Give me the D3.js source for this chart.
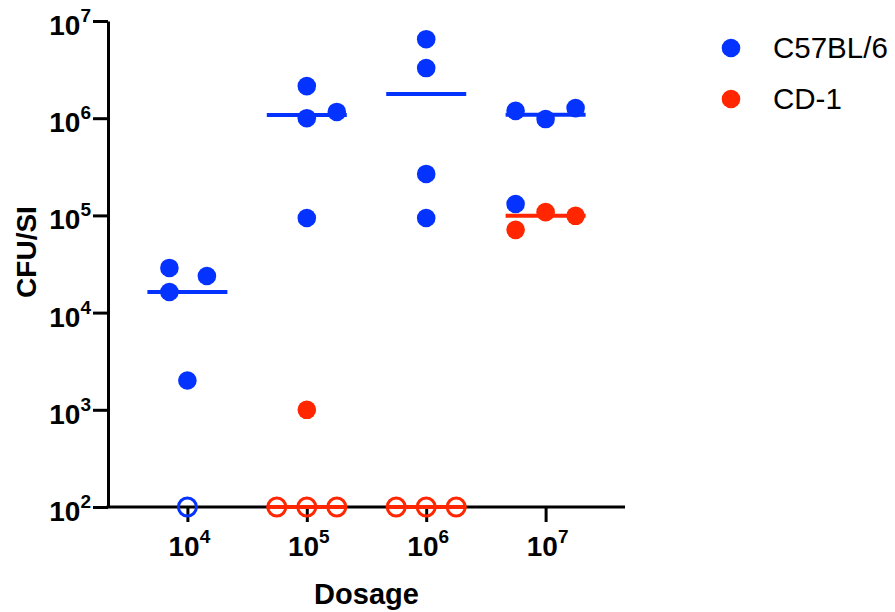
<!DOCTYPE html>
<html>
<head>
<meta charset="utf-8">
<script src="https://cdn.jsdelivr.net/npm/d3@7"></script>
<style>
  html, body { margin: 0; padding: 0; background: #fff; }
  svg { display: block; }
  text { font-family: "Liberation Sans", Arial, Helvetica, sans-serif; }
</style>
</head>
<body>
<svg id="chart" width="895" height="612"></svg>
<script>
// ---- data ----
const dosageExponents = [4, 5, 6, 7];          // x categories: 10^4 ... 10^7
const yTickExponents = [2, 3, 4, 5, 6, 7];     // y ticks: 10^2 ... 10^7
const seriesNames = ["C57BL/6", "CD-1"];
const seriesColors = ["#0433FF", "#FF2600"];
const detectionLimit = 100;

// C57BL/6 CFU/SI per dosage group
const c57Values = [
  [28800, 23800, 16300, 2000, 100],
  [2140000, 1000000, 1160000, 94000],
  [6500000, 3280000, 267000, 94000],
  [1190000, 980000, 1270000, 131000]
];
const c57Slots = [
  [-0.6, 0.65, -0.6, 0, 0],
  [0, 0, 1, 0],
  [0, 0, 0, 0],
  [-1, 0, 1, -1]
];
// CD-1 CFU/SI per dosage group
const cd1Values = [
  [],
  [1000, 100, 100, 100],
  [100, 100, 100],
  [108000, 99000, 71000]
];
const cd1Slots = [
  [],
  [0, -1, 0, 1],
  [-1, 0, 1],
  [0, 1, -1]
];

// ---- layout ----
const svg = d3.select("#chart");
const mLeft = 108, mRight = 625, mTop = 21, mBottom = 507;
const slotW = 30, medHalf = 40, rad = 9.3;

const x = d3.scalePoint().domain(dosageExponents).range([mLeft, mRight]).padding(0.665);
const y = d3.scaleLog().domain([1e2, 1e7]).range([mBottom, mTop]);

// axes
const yAxis = d3.axisLeft(y).tickValues(yTickExponents.map(e => Math.pow(10, e)))
  .tickSize(15).tickSizeOuter(0).tickFormat("");
const xAxis = d3.axisBottom(x).tickValues(dosageExponents)
  .tickSize(15).tickSizeOuter(0).tickFormat("");

const gy = svg.append("g").attr("transform", `translate(${mLeft},0)`).call(yAxis);
const gx = svg.append("g").attr("transform", `translate(0,${mBottom})`).call(xAxis);
[gy, gx].forEach(g => {
  g.select(".domain").attr("stroke", "#000").attr("stroke-width", 3);
  g.selectAll(".tick line").attr("stroke", "#000").attr("stroke-width", 3);
});
gx.select(".domain").attr("d", `M${mLeft - 1.5},0H${mRight}`);

// y tick labels with superscripts
yTickExponents.forEach(e => {
  const t = svg.append("text")
    .attr("x", 91).attr("y", y(Math.pow(10, e)) + 14)
    .attr("text-anchor", "end").attr("font-weight", "bold").attr("font-size", 28).attr("fill", "#000");
  t.append("tspan").text("10");
  t.append("tspan").attr("font-size", 19).attr("dy", -13).text(e);
});
// x tick labels with superscripts
dosageExponents.forEach(e => {
  const t = svg.append("text")
    .attr("x", x(e) + 2).attr("y", 556)
    .attr("text-anchor", "middle").attr("font-weight", "bold").attr("font-size", 28).attr("fill", "#000");
  t.append("tspan").text("10");
  t.append("tspan").attr("font-size", 19).attr("dy", -13).text(e);
});

// axis titles
svg.append("text").attr("x", (mLeft + mRight) / 2).attr("y", 604)
  .attr("text-anchor", "middle").attr("font-weight", "bold").attr("font-size", 29).text("Dosage");
svg.append("text").attr("transform", `translate(36,${(mTop + mBottom) / 2 - 12}) rotate(-90)`)
  .attr("text-anchor", "middle").attr("font-weight", "bold").attr("font-size", 28).text("CFU/SI");

// series
const series = [
  { name: seriesNames[0], color: seriesColors[0], values: c57Values, slots: c57Slots },
  { name: seriesNames[1], color: seriesColors[1], values: cd1Values, slots: cd1Slots }
];

series.forEach(s => {
  const g = svg.append("g");
  dosageExponents.forEach((d, i) => {
    const vals = s.values[i];
    if (!vals.length) return;
    const m = d3.median(vals);
    g.append("line")
      .attr("x1", x(d) - medHalf).attr("x2", x(d) + medHalf)
      .attr("y1", y(m)).attr("y2", y(m))
      .attr("stroke", s.color).attr("stroke-width", 4);
  });
  const pts = [];
  dosageExponents.forEach((d, i) => {
    s.values[i].forEach((v, j) => pts.push({ d, v, slot: s.slots[i][j] }));
  });
  g.selectAll("circle").data(pts).join("circle")
    .attr("cx", p => x(p.d) + p.slot * slotW)
    .attr("cy", p => y(p.v))
    .attr("r", p => p.v <= detectionLimit ? rad - 0.3 : rad)
    .attr("fill", p => p.v <= detectionLimit ? "none" : s.color)
    .attr("stroke", p => p.v <= detectionLimit ? s.color : "none")
    .attr("stroke-width", 3);
});

// legend
seriesNames.forEach((n, i) => {
  const cy = 48 + i * 51;
  svg.append("circle").attr("cx", 731).attr("cy", cy).attr("r", 9.3).attr("fill", seriesColors[i]);
  svg.append("text").attr("x", 773).attr("y", cy + 10)
    .attr("font-size", 29.5).attr("fill", "#000").text(n);
});
</script>
</body>
</html>
